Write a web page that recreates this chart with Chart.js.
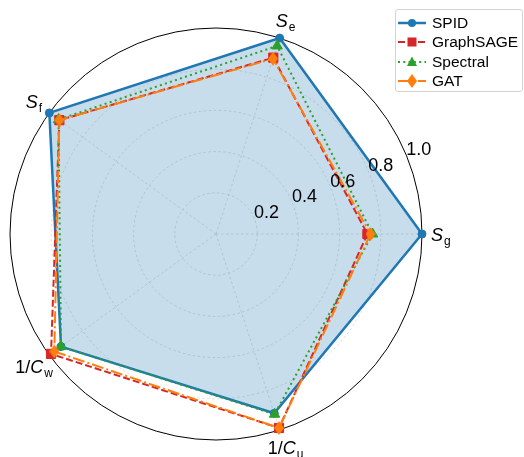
<!DOCTYPE html>
<html>
<head>
<meta charset="utf-8">
<script src="https://cdn.jsdelivr.net/npm/chart.js@4.4.1/dist/chart.umd.min.js"></script>
<style>
  html, body { margin: 0; padding: 0; background: #fff; }
  #wrap { position: relative; width: 524px; height: 457px; }
  #legend {
    position: absolute; left: 395px; top: 9px; width: 128px; height: 83px;
    box-sizing: border-box; padding-top: 3px;
    border: 1px solid #d4d4d4; border-radius: 3px; background: rgba(255,255,255,0.8);
    font-family: "Liberation Sans", Arial, sans-serif; font-size: 15.5px; color: #000;
  }
  .row { display: flex; align-items: center; height: 19.5px; }
  .row canvas { margin-left: 2px; margin-right: 6px; }
</style>
</head>
<body>
<div id="wrap">
  <canvas id="radar" width="524" height="457"></canvas>
  <div id="legend"></div>
</div>
<script>
// axes in Chart.js (clockwise) order, starting at the right
var axes = [
  { main: 'S', sub: 'g' },
  { main: '1/C', sub: 'u' },
  { main: '1/C', sub: 'w' },
  { main: 'S', sub: 'f' },
  { main: 'S', sub: 'e' }
];
var radialTicks = [0.2, 0.4, 0.6, 0.8, 1.0];

var spid      = [1.00, 0.915, 0.93, 1.00, 1.00];
var graphsage = [0.735, 0.99, 0.99, 0.94, 0.90];
var spectral  = [0.76, 0.92, 0.93, 0.945, 0.96];
var gat       = [0.75, 0.99, 0.97, 0.94, 0.895];

var FONT = '"Liberation Sans", Arial, sans-serif';

function thinDiamond(color, h) {
  var w = Math.round(h * 0.7);
  var c = document.createElement('canvas');
  c.width = w; c.height = h;
  var g = c.getContext('2d');
  g.fillStyle = color;
  g.beginPath();
  g.moveTo(w / 2, 0); g.lineTo(w, h / 2); g.lineTo(w / 2, h); g.lineTo(0, h / 2);
  g.closePath();
  g.fill();
  return c;
}

var series = [
  { label: 'SPID', data: spid, color: '#1f77b4', dash: [], width: 2.5, marker: 'circle', size: 4 },
  { label: 'GraphSAGE', data: graphsage, color: '#d62728', dash: [7, 3], width: 2, marker: 'rect', size: 6.5 },
  { label: 'Spectral', data: spectral, color: '#2ca02c', dash: [2, 3.3], width: 2, marker: 'triangle', size: 6 },
  { label: 'GAT', data: gat, color: '#ff7f0e', dash: [12, 3, 2, 3], width: 2, marker: thinDiamond('#ff7f0e', 14), size: 6 }
];

var datasets = series.map(function (s, i) {
  return {
    label: s.label,
    data: s.data,
    borderColor: s.color,
    borderWidth: s.width,
    borderDash: s.dash,
    backgroundColor: i === 0 ? 'rgba(31,119,180,0.25)' : 'rgba(0,0,0,0)',
    fill: i === 0,
    tension: 0,
    pointStyle: s.marker,
    pointRadius: s.size,
    pointBackgroundColor: s.color,
    pointBorderColor: s.color,
    pointBorderWidth: 1,
    order: series.length - 1 - i
  };
});

// axis names with subscripts and radial tick labels at 22.5 degrees
var labelPlugin = {
  id: 'radarText',
  afterDatasetsDraw: function (chart) {
    var sc = chart.scales.r;
    var ctx = chart.ctx;
    ctx.save();
    ctx.fillStyle = '#000';

    axes.forEach(function (a, i) {
      var p = sc.getPointPosition(i, sc.drawingArea * 1.092);
      ctx.font = 'italic 18px ' + FONT;
      var wMain = ctx.measureText(a.main).width;
      ctx.font = '12px ' + FONT;
      var wSub = ctx.measureText(a.sub).width;
      var x0 = p.x - (wMain + wSub + 1) / 2;
      var base = p.y + 6.5;
      if (a.main === '1/C') {
        ctx.font = '18px ' + FONT;
        var w1 = ctx.measureText('1/').width;
        ctx.textAlign = 'left';
        ctx.fillText('1/', x0, base);
        ctx.font = 'italic 18px ' + FONT;
        ctx.fillText('C', x0 + w1, base);
      } else {
        ctx.font = 'italic 18px ' + FONT;
        ctx.textAlign = 'left';
        ctx.fillText(a.main, x0, base);
      }
      ctx.font = '12px ' + FONT;
      ctx.fillText(a.sub, x0 + wMain + 1, base + 4);
    });

    var ang = 22.5 * Math.PI / 180;
    ctx.font = '18px ' + FONT;
    ctx.textAlign = 'center';
    ctx.textBaseline = 'middle';
    radialTicks.forEach(function (v) {
      var d = sc.getDistanceFromCenterForValue(v) + 13.5;
      ctx.fillText(v.toFixed(1), sc.xCenter + d * Math.cos(ang), sc.yCenter - d * Math.sin(ang));
    });
    ctx.restore();
  }
};

function isOuter(v) { return Math.abs(v - 1) < 1e-6; }

new Chart(document.getElementById('radar'), {
  type: 'radar',
  data: { labels: axes.map(function (a) { return a.main + a.sub; }), datasets: datasets },
  options: {
    responsive: false,
    animation: false,
    devicePixelRatio: 1,
    layout: { padding: { left: 10, top: 28, right: 102, bottom: 17 } },
    plugins: { legend: { display: false }, tooltip: { enabled: false } },
    scales: {
      r: {
        min: 0,
        max: 1,
        startAngle: 90,
        ticks: { display: false, stepSize: 0.2 },
        pointLabels: { display: false },
        grid: {
          circular: true,
          color: function (c) { return isOuter(c.tick.value) ? '#000' : '#d6d6d6'; },
          lineWidth: function (c) { return isOuter(c.tick.value) ? 1 : 0.8; }
        },
        border: {
          dash: function (c) { return isOuter(c.tick.value) ? [] : [2.5, 2.5]; }
        },
        angleLines: { color: '#d6d6d6', lineWidth: 0.8, borderDash: [2.5, 2.5] }
      }
    }
  },
  plugins: [labelPlugin]
});

// legend: line + marker handles
var legend = document.getElementById('legend');
series.forEach(function (s) {
  var row = document.createElement('div');
  row.className = 'row';
  var c = document.createElement('canvas');
  c.width = 28; c.height = 18;
  var g = c.getContext('2d');
  g.strokeStyle = s.color;
  g.fillStyle = s.color;
  g.lineWidth = s.width;
  g.setLineDash(s.dash);
  g.beginPath(); g.moveTo(0, 9); g.lineTo(28, 9); g.stroke();
  g.setLineDash([]);
  if (s.marker === 'circle') {
    g.beginPath(); g.arc(14, 9, 4, 0, Math.PI * 2); g.fill();
  } else if (s.marker === 'rect') {
    g.fillRect(9.5, 4.5, 9, 9);
  } else if (s.marker === 'triangle') {
    g.beginPath(); g.moveTo(14, 3.5); g.lineTo(19, 13); g.lineTo(9, 13); g.closePath(); g.fill();
  } else {
    g.drawImage(s.marker, 14 - s.marker.width / 2, 9 - s.marker.height / 2);
  }
  var t = document.createElement('span');
  t.textContent = s.label;
  row.appendChild(c);
  row.appendChild(t);
  legend.appendChild(row);
});
</script>
</body>
</html>
